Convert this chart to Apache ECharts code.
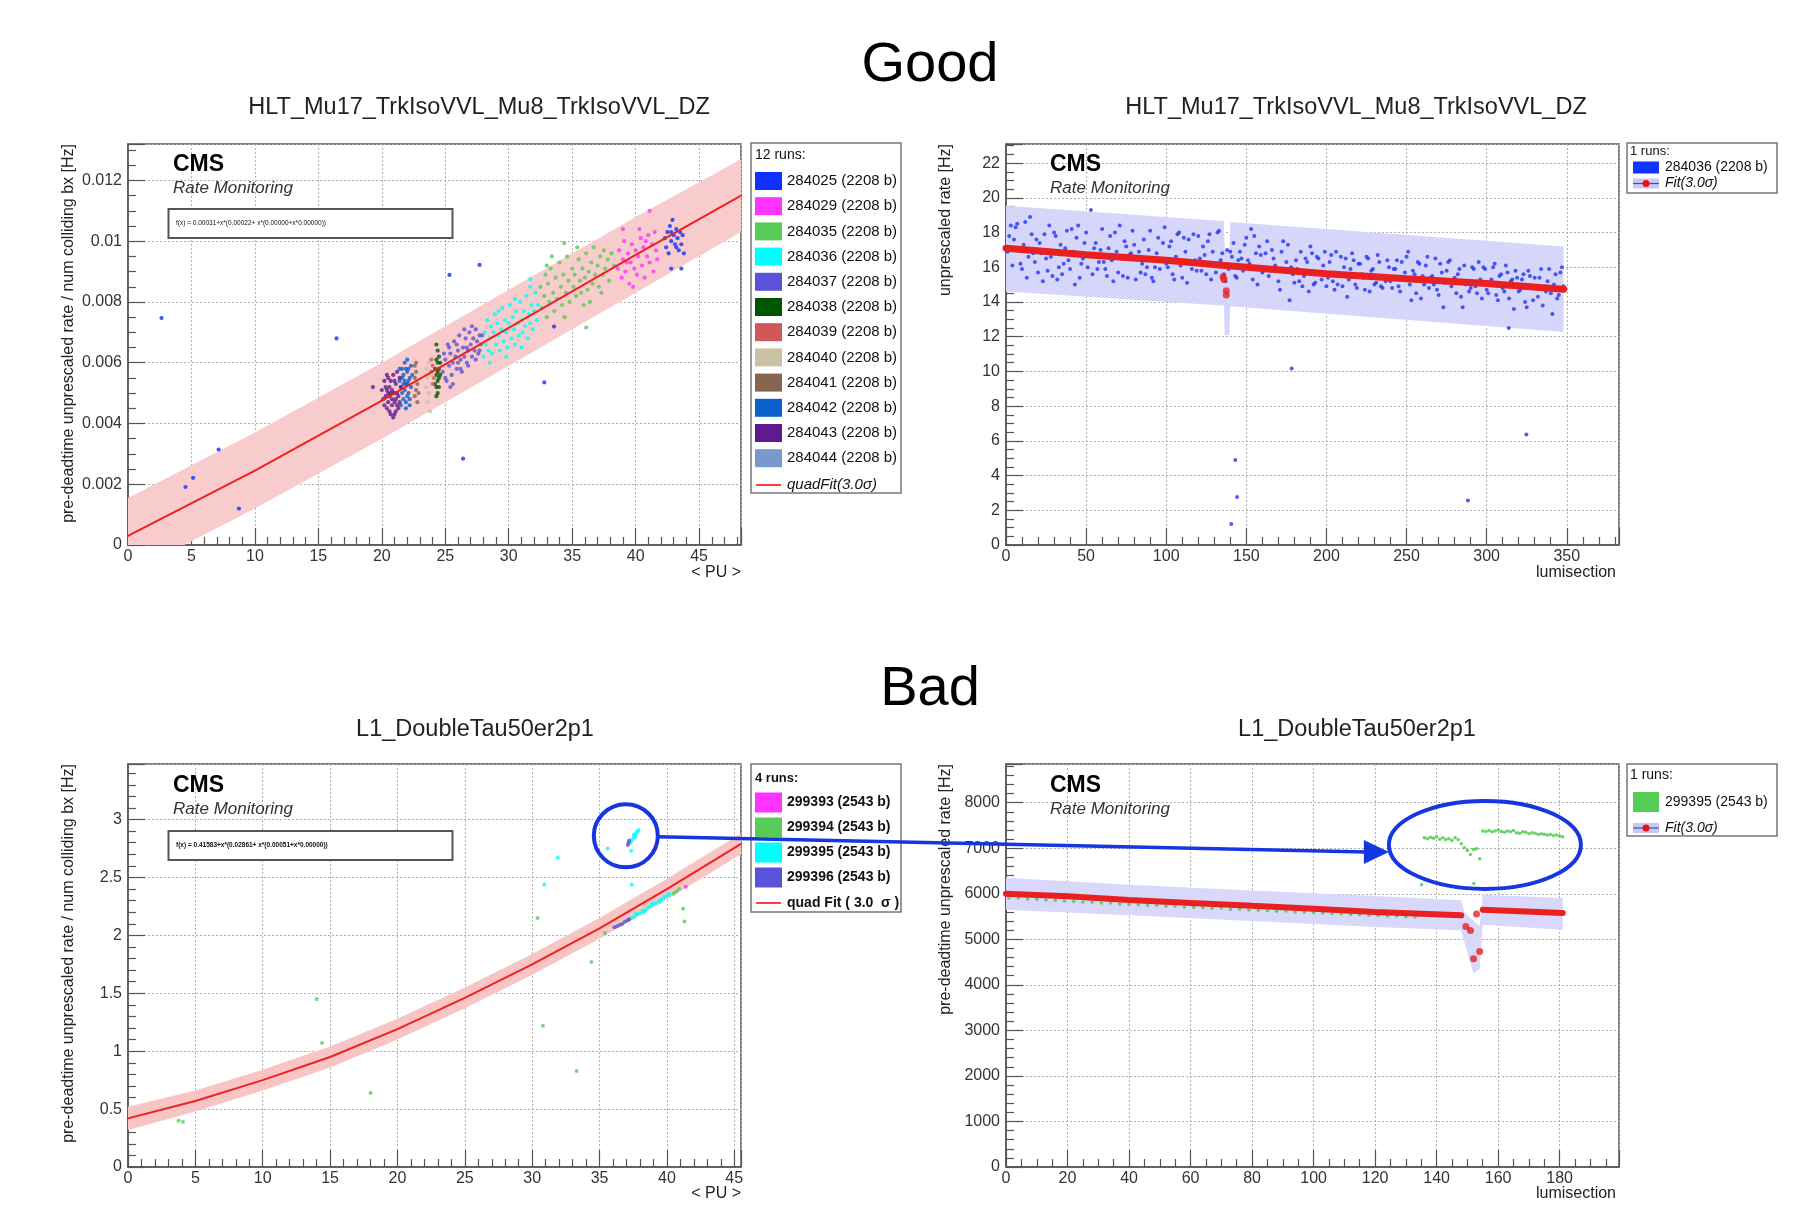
<!DOCTYPE html>
<html><head><meta charset="utf-8">
<script src="https://cdn.jsdelivr.net/npm/echarts@6/dist/echarts.min.js"></script>
<style>html,body{margin:0;padding:0;background:#fff}#c{width:1809px;height:1205px}</style>
</head><body><div id="c"></div>
<script>
// ---------------- DATA ----------------
// Top-left: HLT_Mu17_TrkIsoVVL_Mu8_TrkIsoVVL_DZ vs <PU>
const tlRuns = ['284025','284029','284035','284036','284037','284038','284039','284040','284041','284042','284043','284044'];
const tlColors = ['#1030ff','#ff33ff','#58cc58','#00ffff','#5a52d8','#005500','#cf5858','#cbc2a6','#876450','#0b62cc','#5e1a8e','#7799cc'];
const run284025 = [[42.3,0.0101],[42.4,0.0098],[42.5,0.0103],[42.6,0.0096],[42.7,0.0105],[42.8,0.0100],[42.9,0.0107],[43.0,0.0102],[43.1,0.0099],[43.2,0.0104],[43.3,0.0101],[43.4,0.0097],[43.5,0.0103],[43.6,0.0099],[43.7,0.0102],[43.8,0.0096],[42.8,0.0103],[43.2,0.0098],
  [2.64,0.00747],[4.53,0.00191],[5.13,0.00221],[7.14,0.00314],[8.74,0.0012],[16.43,0.0068],[25.33,0.00889],[27.7,0.00922],[26.4,0.00284],[32.8,0.00535],[33.57,0.00719],[42.8,0.0091],[43.6,0.0091]];
const run284029 = [[38.6,0.0091],[38.7,0.0097],[38.9,0.0088],[39.0,0.0094],[39.1,0.0100],[39.2,0.0090],[39.4,0.0096],[39.5,0.0086],[39.6,0.0093],[39.7,0.0099],[39.9,0.0091],[40.0,0.0097],[40.1,0.0089],[40.2,0.0095],[40.4,0.0101],[40.5,0.0092],[40.6,0.0098],[40.7,0.0088],[40.9,0.0095],[41.0,0.0102],[41.1,0.0093],[41.3,0.0099],[41.4,0.0090],[41.6,0.0097],[41.7,0.0094],[39.0,0.0104],[39.8,0.0085],[40.3,0.0104],[41.5,0.0103],[41.1,0.0110],[39.3,0.0093],[40.8,0.0100]];
const run284035 = [[32.5,0.0085],[32.6,0.0078],[32.8,0.0082],[32.9,0.0089],[33.0,0.0075],[33.1,0.0086],[33.2,0.0080],[33.3,0.0091],[33.5,0.0083],[33.6,0.0077],[33.7,0.0088],[33.8,0.0081],[34.0,0.0093],[34.1,0.0085],[34.2,0.0079],[34.3,0.0089],[34.5,0.0083],[34.6,0.0095],[34.7,0.0087],[34.8,0.0080],[35.0,0.0091],[35.1,0.0085],[35.2,0.0089],[35.3,0.0082],[35.5,0.0094],[35.6,0.0087],[35.7,0.0083],[35.8,0.0091],[36.0,0.0088],[36.1,0.0096],[36.2,0.0084],[36.3,0.0090],[36.5,0.0093],[36.6,0.0086],[36.7,0.0098],[36.8,0.0089],[37.0,0.0092],[37.1,0.0085],[37.2,0.0095],[37.4,0.0089],[37.5,0.0097],[37.6,0.0091],[37.8,0.0094],[37.9,0.0087],[38.1,0.0096],[38.3,0.0092],[33.4,0.0095],[34.4,0.0075],[35.4,0.0098],[36.4,0.0080],[37.3,0.0083],[34.36,0.00993],[36.1,0.00716],[33.0,0.0092],[35.9,0.0079]];
const run284036 = [[28.0,0.0062],[28.1,0.0070],[28.2,0.0066],[28.3,0.0074],[28.4,0.0064],[28.5,0.0068],[28.6,0.0072],[28.7,0.0063],[28.8,0.0070],[28.9,0.0076],[29.0,0.0066],[29.1,0.0073],[29.2,0.0069],[29.3,0.0064],[29.4,0.0071],[29.5,0.0078],[29.6,0.0067],[29.7,0.0074],[29.8,0.0070],[29.9,0.0065],[30.0,0.0073],[30.1,0.0079],[30.2,0.0068],[30.3,0.0075],[30.4,0.0071],[30.5,0.0066],[30.6,0.0077],[30.7,0.0073],[30.8,0.0069],[30.9,0.0080],[31.0,0.0074],[31.1,0.0070],[31.2,0.0077],[31.3,0.0072],[31.4,0.0082],[31.5,0.0068],[31.6,0.0076],[31.7,0.0073],[31.8,0.0079],[31.9,0.0071],[32.0,0.0077],[32.1,0.0083],[32.2,0.0074],[32.3,0.0079],[28.5,0.0060],[29.2,0.0077],[29.8,0.0062],[30.5,0.0081],[31.0,0.0065],[31.7,0.0085],[31.7,0.00875]];
const run284037 = [[24.8,0.0057],[25.0,0.0061],[25.1,0.0054],[25.2,0.0066],[25.3,0.0059],[25.4,0.0063],[25.5,0.0056],[25.6,0.0060],[25.7,0.0067],[25.8,0.0062],[25.9,0.0058],[26.0,0.0064],[26.1,0.0069],[26.2,0.0061],[26.3,0.0057],[26.4,0.0065],[26.5,0.0062],[26.6,0.0068],[26.7,0.0060],[26.8,0.0064],[26.9,0.0070],[27.0,0.0066],[27.1,0.0062],[27.2,0.0068],[27.3,0.0064],[27.4,0.0071],[27.5,0.0067],[27.6,0.0063],[27.7,0.0069],[27.8,0.0066],[25.0,0.0055],[25.3,0.0065],[25.6,0.0053],[25.9,0.0066],[26.2,0.0058],[26.5,0.0071],[26.8,0.0059],[27.1,0.0072],[27.4,0.0061],[27.7,0.0064],[24.9,0.0063],[25.4,0.0052],[26.0,0.0060],[26.7,0.0065],[27.9,0.0069]];
const run284038 = [[24.3,0.0066],[24.4,0.0064],[24.5,0.0062],[24.3,0.0061],[24.4,0.0060],[24.2,0.0058],[24.5,0.0058],[24.3,0.0056],[24.6,0.0056],[24.4,0.0054],[24.2,0.0053],[24.5,0.0052],[24.4,0.0050],[24.3,0.0049],[24.6,0.0060],[24.5,0.0055],[24.4,0.0057],[24.3,0.0052]];
const run284039 = [[23.9,0.0061],[24.0,0.0059],[23.9,0.0057],[24.1,0.0055],[24.0,0.0053]];
const run284040 = [[23.5,0.0058],[23.6,0.0055],[23.5,0.0052],[23.7,0.0050],[23.6,0.0047],[23.8,0.0044],[23.9,0.0056],[23.7,0.0060]];
const run284041 = [[22.6,0.0059],[22.7,0.0057],[22.6,0.0055],[22.8,0.0053],[22.7,0.0051],[22.6,0.0049],[22.8,0.0047],[22.7,0.0060],[22.9,0.0050]];
const run284042 = [[21.4,0.0058],[21.5,0.0052],[21.6,0.0055],[21.7,0.0048],[21.8,0.0060],[21.9,0.0053],[22.0,0.0057],[22.1,0.0050],[22.2,0.0055],[22.3,0.0059],[21.5,0.0046],[21.7,0.0056],[21.8,0.0051],[21.9,0.0047],[22.0,0.0053],[22.1,0.0058],[22.2,0.0048],[21.6,0.0050],[21.8,0.0054],[22.0,0.0049],[21.9,0.0058],[22.3,0.0052],[21.4,0.0054],[22.4,0.0056],[21.7,0.0053],[22.0,0.0061],[21.6,0.0058],[22.2,0.0046],[21.9,0.0045],[22.1,0.0054]];
const run284043 = [[20.1,0.0048],[20.3,0.0052],[20.4,0.0045],[20.5,0.0055],[20.6,0.0049],[20.7,0.0043],[20.8,0.0051],[20.9,0.0056],[21.0,0.0047],[21.1,0.0053],[21.2,0.0050],[21.3,0.0045],[21.4,0.0055],[20.2,0.0054],[20.5,0.0047],[20.6,0.0052],[20.8,0.0046],[20.9,0.0050],[21.0,0.0054],[21.1,0.0044],[21.2,0.0057],[21.3,0.0049],[21.5,0.0052],[20.3,0.0049],[20.4,0.0051],[20.7,0.0054],[20.8,0.0048],[21.0,0.0050],[21.1,0.0048],[21.4,0.0047],[20.2,0.0046],[20.6,0.0044],[20.9,0.0042],[21.2,0.0046],[20.4,0.0056],[20.0,0.0051],[19.3,0.0052],[20.7,0.0050],[21.0,0.0043],[20.5,0.0050]];
const run284044 = [];
const tlRunData = [run284025,run284029,run284035,run284036,run284037,run284038,run284039,run284040,run284041,run284042,run284043,run284044];
const tlFitPU   = [0, 10, 20, 30, 40, 48.3];
const tlFitRate = [0.0003, 0.00245, 0.00475, 0.00715, 0.00955, 0.0115];
const tlBandUp  = [0.00155, 0.0037, 0.0060, 0.0084, 0.0108, 0.0127];
const tlBandLo  = [-0.00095, 0.0012, 0.0035, 0.0059, 0.0083, 0.0103];

// Top-right: run 284036 rate vs lumisection
// odd lumisections (1,3,5,...) and even lumisections (2,4,6,...)
const trOddFirstLS = 1, trEvenFirstLS = 2, trStepLS = 2;
const trRateOdd = [16.9,18.4,17.6,18.5,16.2,17.3,15.4,18.9,16.8,17.6,
 17.4,15.2,16.5,18.4,15.5,17.8,16.0,15.6,17.1,16.4,
 18.2,15.0,18.4,16.2,17.4,16.0,19.3,17.1,15.9,17.0,
 16.3,15.5,17.8,15.2,16.9,18.4,15.5,17.2,16.7,18.1,
 15.3,16.9,16.2,15.6,17.0,15.4,16.0,17.7,16.4,18.3,
 16.0,17.5,15.3,17.9,16.1,17.7,15.1,16.3,17.9,15.8,
 16.5,17.2,15.6,17.9,16.9,15.7,18.1,16.8,15.2,15.9,
 16.6,15.5,16.4,16.5,17.3,16.4,18.2,17.8,15.0,16.7,
 16.0,17.5,15.8,16.5,15.9,14.7,17.5,16.3,14.1,15.6,
 16.4,15.2,14.9,16.5,14.6,16.8,15.1,16.5,15.3,16.9,
 15.4,16.7,14.7,15.0,16.6,16.0,14.3,15.9,16.4,14.8,
 16.2,15.4,16.6,14.6,15.9,15.1,16.3,14.8,15.2,16.0,
 14.8,15.9,14.9,16.3,15.7,16.9,14.1,15.6,16.3,14.2,
 15.0,16.6,15.4,15.0,14.7,16.2,13.7,15.8,16.4,15.1,
 14.5,15.9,13.7,15.0,14.6,16.0,14.9,16.3,14.2,15.9,
 14.5,15.3,16.2,14.1,15.6,14.6,15.7,15.2,13.6,15.4,
 14.7,15.6,13.7,15.5,14.1,14.9,15.4,13.8,14.6,15.9,
 13.3,15.6,14.4,16.0];
const trRateEven = [17.8,16.1,18.3,17.0,15.9,18.6,16.6,17.9,16.3,15.7,
 16.8,17.9,15.8,16.6,18.0,15.3,17.3,16.2,18.1,15.9,
 16.9,17.7,15.4,16.5,18.0,16.7,15.6,17.4,16.3,18.2,
 15.9,17.1,16.4,18.0,15.7,16.6,17.5,15.4,16.8,17.3,
 16.6,15.7,17.6,16.0,18.1,15.2,16.8,15.9,17.4,16.2,
 17.2,15.6,16.6,18.0,15.4,16.9,17.6,15.9,16.4,17.8,
 15.8,16.7,17.5,15.3,16.2,18.0,16.4,15.6,17.0,16.9,
 17.4,15.4,16.9,15.8,17.7,16.2,15.3,16.8,17.2,15.7,
 16.8,15.5,17.0,16.1,15.2,16.9,15.8,17.3,16.0,15.1,
 15.9,16.9,15.5,16.3,17.2,15.0,16.6,15.7,16.1,14.9,
 16.3,15.2,16.9,15.6,14.9,16.5,15.3,16.8,15.0,16.2,
 15.6,14.7,16.5,15.8,15.0,16.7,14.9,15.5,16.4,15.2,
 15.9,16.4,14.6,15.3,16.6,15.0,15.8,14.5,16.2,15.5,
 16.1,14.8,15.5,16.5,14.4,15.7,15.1,16.3,14.9,15.4,
 15.6,14.3,16.1,15.2,14.8,15.9,14.5,15.3,16.0,14.7,
 15.1,16.0,14.4,15.5,14.8,16.1,14.2,15.3,15.8,14.6,
 15.3,14.0,15.8,14.9,15.4,14.3,15.9,14.8,15.2,14.5,
 15.0,14.2,15.7,14.9];
const trOutLS   = [140.6, 143.1, 144.2, 178.3, 288.3, 324.8, 313.8];
const trOutRate = [1.21, 4.89, 2.76, 10.17, 2.57, 6.37, 12.5];
const trFitLS   = [0, 50, 100, 135, 200, 250, 300, 348];
const trFitRate = [17.1, 16.72, 16.4, 16.12, 15.63, 15.34, 15.06, 14.73];
const trDipLS   = [135.5, 136, 137.5, 137.5];
const trDipRate = [15.45, 15.3, 14.65, 14.4];
const trBandLS  = [0, 135, 136, 136.5, 139.5, 140, 348];
const trBandUp  = [19.55, 18.66, 18.66, 17.0, 17.0, 18.6, 17.2];
const trBandLo  = [14.6, 13.8, 13.8, 12.1, 12.1, 13.75, 12.27];

// Bottom-left: L1_DoubleTau50er2p1 vs <PU>
const blRuns = ['299393','299394','299395','299396'];
const blColors = ['#ff33ff','#58cc58','#00ffff','#5a52d8'];
const run299393 = [[41.4,2.42]];
const run299394 = [[40.5,2.36],[40.7,2.38],[40.9,2.40],[30.4,2.15],[35.4,2.02],[34.4,1.77],[30.8,1.22],[33.3,0.83],[41.2,2.23],[41.3,2.12],[14.0,1.45],[14.4,1.07],[18.0,0.64],[3.75,0.40],[4.08,0.39]];
const run299395 = [[37.3,2.80],[37.4,2.82],[37.5,2.84],[37.6,2.86],[37.7,2.88],[37.8,2.90],[37.9,2.91],[37.55,2.87],[37.65,2.85],
  [35.6,2.75],[37.35,2.73],[31.9,2.67],[30.9,2.44],[37.4,2.44],
  [37.4,2.15],[37.6,2.16],[37.8,2.18],[38.0,2.19],[38.2,2.21],[38.4,2.22],[38.6,2.24],[38.8,2.25],[39.0,2.27],[39.2,2.28],[39.4,2.30],[39.6,2.31],[39.8,2.33],[40.0,2.34],[40.2,2.35],[37.7,2.19],[38.3,2.20],[38.9,2.27],[39.5,2.29],[40.1,2.36]];
const run299396 = [[36.1,2.07],[36.3,2.08],[36.5,2.09],[36.7,2.10],[36.9,2.12],[37.1,2.13],[37.2,2.14],[37.15,2.80],[37.2,2.82],[37.1,2.78]];
const blRunData = [run299393, run299394, run299395, run299396];
const blFitPU   = [0, 5, 10, 15, 20, 25, 30, 35, 40, 45.5];
const blFitRate = [0.42, 0.57, 0.75, 0.95, 1.19, 1.46, 1.75, 2.06, 2.40, 2.79];
const blBandUp  = [0.52, 0.66, 0.84, 1.04, 1.28, 1.55, 1.84, 2.15, 2.49, 2.88];
const blBandLo  = [0.32, 0.48, 0.66, 0.86, 1.10, 1.37, 1.66, 1.97, 2.31, 2.70];

// Bottom-right: run 299395 rate vs lumisection
const brLowFirstLS = 1, brLowStepLS = 3;
const brLowRate = [5910,5905,5885,5880,5862,5860,5840,5835,5818,5820,5795,5800,5778,5770,5765,5748,5750,5728,5730,5712,5705,5700,5680,5685,5662,5665,5645,5640,5630,5618,5620,5598,5600,5582,5580,5565,5560,5548,5545,5528,5525,5512,5510,5495,5490];
const brHighFirstLS = 136;
const brHighRate = [7230,7210,7240,7220,7250,7200,7230,7190,7210,7170,7230,7190,7100,7010,6950,6860,6970,6990,6770,
  7380,7370,7390,7360,7380,7400,7370,7350,7380,7360,7390,7340,7330,7360,7350,7320,7340,7330,7300,7320,7310,7290,7300,7280,7290,7270,7250];
const brIsoLS = [135.1, 152.1];
const brIsoRate = [6200, 6224];
const brFitLS1 = [0, 20, 40, 60, 80, 100, 120, 148];
const brFitRate1 = [6000, 5945, 5865, 5800, 5735, 5673, 5600, 5527];
const brFitLS2 = [155, 181];
const brFitRate2 = [5651, 5578];
const brDipLS = [149.5, 151, 152, 153, 154];
const brDipRate = [5284, 5196, 4572, 5556, 4734];
const brBandLS = [0, 40, 80, 120, 148, 149, 152, 154, 155, 181];
const brBandUp = [6350, 6200, 6070, 5950, 5860, 5600, 5400, 5300, 5980, 5910];
const brBandLo = [5650, 5530, 5400, 5270, 5200, 4950, 4250, 4350, 5320, 5210];

// Axis tick settings
const xMax = [48.3, 382.6, 45.5, 199.3];
const xInterval = [5, 50, 5, 20];
const xMinor = [5, 5, 5, 4];
const yMax = [0.0132, 23.1, 3.48, 8850];
const yInterval = [0.002, 2, 0.5, 1000];
const yMinor = [4, 4, 5, 5];

// Annotation anchors (data coordinates)
const circleCenterBL = [36.95, 2.86];
const ellipseCenterBR = [155.7, 7073];

// ---------------- CHART ----------------
const FONT = 'Liberation Sans, Arial, Helvetica, sans-serif';
const zip = (xs, ys) => xs.map((x, i) => [x, ys[i]]);
const grids = [
  {left:128, top:144, width:613, height:401},
  {left:1006, top:144, width:613, height:401},
  {left:128, top:764, width:613, height:403},
  {left:1006, top:764, width:613, height:403}
].map(g => Object.assign(g, {show:true, borderColor:'#555', borderWidth:1.5, backgroundColor:'#fff'}));

function axis(i, isX) {
  return {
    type:'value', gridIndex:i, min:0,
    max: isX ? xMax[i] : yMax[i],
    interval: isX ? xInterval[i] : yInterval[i],
    axisLine:{show:true, onZero:false, lineStyle:{color:'#555', width:1.5}},
    axisTick:{show:true, inside:true, length:17, lineStyle:{color:'#555', width:1.2}},
    minorTick:{show:true, splitNumber: isX ? xMinor[i] : yMinor[i], length:8, lineStyle:{color:'#555', width:1.2}},
    splitLine:{show:true, lineStyle:{color:'#b0b0b0', width:1, type:[2,2]}},
    minorSplitLine:{show:false},
    axisLabel:{fontSize:16, color:'#333', fontFamily:FONT, margin: isX ? 4 : 6, showMaxLabel:false,
      formatter: v => String(v)}
  };
}

function band(i, xs, up, lo, color) {
  const upper = zip(xs, up), lower = zip(xs, lo).reverse();
  return {
    type:'custom', xAxisIndex:i, yAxisIndex:i, clip:true, silent:true, z:1,
    data:[[xs[0], up[0]]],
    renderItem:(params, api) => ({
      type:'polygon',
      shape:{points: upper.map(p => api.coord(p)).concat(lower.map(p => api.coord(p)))},
      style:{fill:color}
    })
  };
}
function scat(i, name, data, color, size) {
  return {type:'scatter', name, xAxisIndex:i, yAxisIndex:i, data, symbol:'circle', symbolSize:size,
    itemStyle:{color}, z:3, silent:true};
}
function fitLine(i, xs, ys, color, width) {
  return {type:'line', xAxisIndex:i, yAxisIndex:i, data:zip(xs, ys), showSymbol:false, symbol:'none',
    lineStyle:{color, width, cap:'round'}, z:4, silent:true, clip:true};
}

const series = [];
series.push(band(0, tlFitPU, tlBandUp, tlBandLo, '#f8cccc'));
tlRuns.forEach((r, k) => series.push(scat(0, r, tlRunData[k], tlColors[k], 4.2)));
series.push(fitLine(0, tlFitPU, tlFitRate, '#ee2020', 2));

series.push(band(1, trBandLS, trBandUp, trBandLo, '#d6d6fb'));
const trPoints = trRateOdd.map((v, k) => [trOddFirstLS + trStepLS * k, v])
  .concat(trRateEven.map((v, k) => [trEvenFirstLS + trStepLS * k, v]))
  .concat(zip(trOutLS, trOutRate));
series.push(scat(1, 'tr', trPoints, '#2236ee', 4));
series.push(fitLine(1, trFitLS, trFitRate, '#e82020', 7));
series.push(scat(1, 'trdip', zip(trDipLS, trDipRate), '#e82020', 7));

series.push(band(2, blFitPU, blBandUp, blBandLo, '#f8c4c4'));
series.push(fitLine(2, blFitPU, blFitRate, '#ee2020', 2));
blRuns.forEach((r, k) => series.push(scat(2, r, blRunData[k], blColors[k], 4)));

series.push(band(3, brBandLS, brBandUp, brBandLo, '#d8d8fb'));
series.push(scat(3, 'brlow', brLowRate.map((v, k) => [brLowFirstLS + brLowStepLS * k, v]), '#44c844', 3.5));
series.push(fitLine(3, brFitLS1, brFitRate1, '#e82020', 6));
series.push(fitLine(3, brFitLS2, brFitRate2, '#e82020', 6));
series.push(scat(3, 'brdip', zip(brDipLS, brDipRate), '#e82020', 7));
series.push(scat(3, 'brhigh', brHighRate.map((v, k) => [brHighFirstLS + k, v]).concat(zip(brIsoLS, brIsoRate)), '#44c844', 3.5));

const chart = echarts.init(document.getElementById('c'), null, {width:1809, height:1205});
chart.setOption({
  backgroundColor:'#fff', animation:false,
  grid: grids,
  xAxis: [0,1,2,3].map(i => axis(i, true)),
  yAxis: [0,1,2,3].map(i => axis(i, false)),
  series
});

// ---------------- TEXT, LEGENDS, ANNOTATIONS ----------------
const G = [];
const txt = (x, y, text, font, fill) => G.push({type:'text', x, y, z:100,
  style:{text, font, fill: fill || '#111', align:'left', verticalAlign:'middle'}});
const rect = (x, y, w, h, fill, stroke, lw) => G.push({type:'rect', z:99, shape:{x, y, width:w, height:h},
  style:{fill, stroke: stroke || null, lineWidth: lw || 0}});

// Section titles
G.push({type:'text', x:930, y:66, z:100, style:{text:'Good', font:'56px '+FONT, fill:'#000', align:'center', verticalAlign:'middle'}});
G.push({type:'text', x:930, y:690, z:100, style:{text:'Bad', font:'56px '+FONT, fill:'#000', align:'center', verticalAlign:'middle'}});
// Panel titles
[[479,108,'HLT_Mu17_TrkIsoVVL_Mu8_TrkIsoVVL_DZ'],[1356,108,'HLT_Mu17_TrkIsoVVL_Mu8_TrkIsoVVL_DZ'],
 [475,730,'L1_DoubleTau50er2p1'],[1357,730,'L1_DoubleTau50er2p1']].forEach(t =>
  G.push({type:'text', x:t[0], y:t[1], z:100, style:{text:t[2], font:'23.5px '+FONT, fill:'#222', align:'center', verticalAlign:'middle'}}));
// CMS labels
[[173,165],[1050,165],[173,786],[1050,786]].forEach(p => {
  txt(p[0], p[1], 'CMS', 'bold 23px '+FONT, '#000');
  txt(p[0], p[1]+23, 'Rate Monitoring', 'italic 17px '+FONT, '#333');
});
// Formula boxes
rect(168.5, 209, 284, 29, '#fff', '#555', 2);
txt(176, 223.5, 'f(x) = 0.00031+x*(0.00022+ x*(0.00000+x*0.00000))', '6.5px '+FONT);
rect(168.5, 831, 284, 29, '#fff', '#555', 2);
txt(176, 845.5, 'f(x) = 0.41583+x*(0.02861+ x*(0.00051+x*0.00000))', 'bold 6.5px '+FONT);
// Axis titles
const yName = (x, y, text) => G.push({type:'text', x, y, z:100, rotation:Math.PI/2,
  style:{text, font:'16px '+FONT, fill:'#222', align:'right', verticalAlign:'middle'}});
yName(69, 144, 'pre-deadtime unprescaled rate / num colliding bx [Hz]');
yName(946, 144, 'unprescaled rate [Hz]');
yName(69, 764, 'pre-deadtime unprescaled rate / num colliding bx [Hz]');
yName(946, 764, 'pre-deadtime unprescaled rate [Hz]');
const xName = (x, y, text) => G.push({type:'text', x, y, z:100,
  style:{text, font:'16px '+FONT, fill:'#222', align:'right', verticalAlign:'middle'}});
xName(741, 573, '< PU >'); xName(1616, 573, 'lumisection');
xName(741, 1194, '< PU >'); xName(1616, 1194, 'lumisection');

// Legend top-left
rect(751, 143, 150, 350, '#fff', '#777', 1.5);
txt(755, 155, '12 runs:', '14px '+FONT);
tlRuns.forEach((r, k) => {
  const cy = 181 + 25.2 * k;
  rect(755, cy - 9, 27, 18, tlColors[k], null, 0);
  txt(787, cy, r + ' (2208 b)', '15px '+FONT);
});
G.push({type:'line', z:100, shape:{x1:756, y1:485, x2:781, y2:485}, style:{stroke:'#ff4040', lineWidth:2}});
txt(787, 485, 'quadFit(3.0\u03c3)', 'italic 15px '+FONT);

// Legend top-right
rect(1627, 143, 150, 50, '#fff', '#777', 1.5);
txt(1630, 151, '1 runs:', '13px '+FONT);
rect(1633, 161.5, 26, 12, '#1133ff', null, 0);
txt(1665, 167.5, '284036 (2208 b)', '14px '+FONT);
const fitIcon = (cy) => {
  rect(1633, cy - 5, 26, 10, '#c8c8f6', null, 0);
  G.push({type:'line', z:100, shape:{x1:1633, y1:cy, x2:1659, y2:cy}, style:{stroke:'#4a4aa8', lineWidth:1.2}});
  G.push({type:'circle', z:101, shape:{cx:1646, cy, r:3.5}, style:{fill:'#ee1111'}});
};
fitIcon(183.5);
txt(1665, 183.5, 'Fit(3.0\u03c3)', 'italic 14px '+FONT);

// Legend bottom-left
rect(751, 764, 150, 148, '#fff', '#777', 1.5);
txt(755, 778, '4 runs:', 'bold 13px '+FONT);
blRuns.forEach((r, k) => {
  const cy = 802.5 + 25 * k;
  rect(755, cy - 10, 27, 20, blColors[k], null, 0);
  txt(787, cy, r + ' (2543 b)', 'bold 14px '+FONT);
});
G.push({type:'line', z:100, shape:{x1:756, y1:903, x2:781, y2:903}, style:{stroke:'#ff4040', lineWidth:2}});
txt(787, 903, 'quad Fit ( 3.0  \u03c3 )', 'bold 14px '+FONT);

// Legend bottom-right
rect(1627, 764, 150, 72, '#fff', '#777', 1.5);
txt(1630, 775, '1 runs:', '14px '+FONT);
rect(1633, 792, 26, 20, '#55cc55', null, 0);
txt(1665, 802, '299395 (2543 b)', '14px '+FONT);
fitIcon(828);
txt(1665, 828, 'Fit(3.0\u03c3)', 'italic 14px '+FONT);

// Annotations: circle, ellipse and arrow
const p1 = chart.convertToPixel({gridIndex:2}, circleCenterBL);
const p2 = chart.convertToPixel({gridIndex:3}, ellipseCenterBR);
const BLUE = '#1536e0';
G.push({type:'ellipse', z:110, shape:{cx:p1[0], cy:p1[1], rx:32, ry:31.5}, style:{fill:null, stroke:BLUE, lineWidth:4}});
G.push({type:'ellipse', z:110, shape:{cx:p2[0], cy:p2[1], rx:96, ry:44}, style:{fill:null, stroke:BLUE, lineWidth:4}});
const tip = [p2[0] - 96, p2[1] + 7];
G.push({type:'line', z:110, shape:{x1:p1[0] + 32, y1:p1[1] + 1, x2:tip[0] - 22, y2:tip[1]}, style:{stroke:BLUE, lineWidth:3.5}});
G.push({type:'polygon', z:110, shape:{points:[[tip[0], tip[1]], [tip[0] - 25, tip[1] - 12], [tip[0] - 25, tip[1] + 12]]}, style:{fill:BLUE}});

chart.setOption({graphic: G});
</script></body></html>
